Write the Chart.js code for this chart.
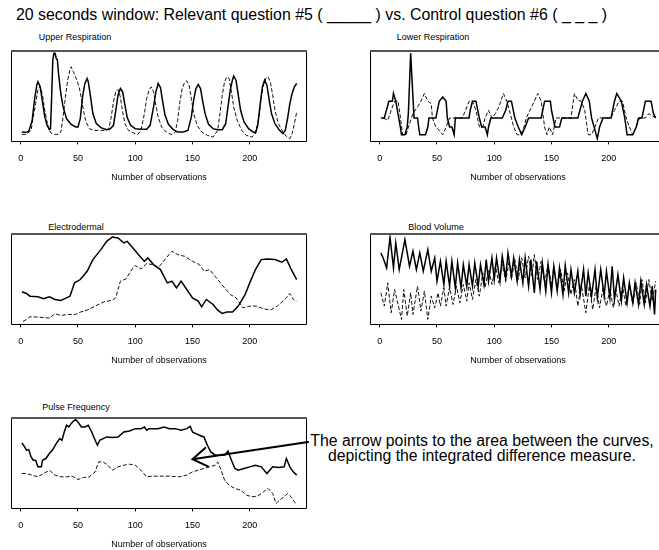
<!DOCTYPE html>
<html><head><meta charset="utf-8">
<script src="https://cdn.jsdelivr.net/npm/chart.js@4.4.1/dist/chart.umd.min.js"></script>
<style>
html,body{margin:0;padding:0;width:659px;height:550px;overflow:hidden;background:#fff;font-family:"Liberation Sans",Arial,sans-serif;color:#000}
.abs{position:absolute;white-space:nowrap}
#title{left:16px;top:6px;font-size:15.9px;line-height:18px}
.ptitle{font-size:9px;line-height:11px;transform:translateX(-50%)}
#note{left:300px;width:364px;top:434px;font-size:15.8px;line-height:14.7px;text-align:center}
canvas{position:absolute}
</style></head><body>
<div id="title" class="abs"></div>
<div id="note" class="abs"></div>
<script>
// ---------- text ----------
const mainTitle = "20 seconds window: Relevant question #5 ( _____ ) vs. Control question #6 ( _ _ _ )";
const noteLines = ["The arrow points to the area between the curves,", "depicting the integrated difference measure."];
const panelTitles = ["Upper Respiration", "Lower Respiration", "Electrodermal", "Blood Volume", "Pulse Frequency"];
const xAxisTitle = "Number of observations";
const tickValues = [0, 50, 100, 150, 200];

// ---------- Upper Respiration ----------
const upperSolidObs = [1,4,7,10,12,14,15,17,19,21,23,25,26,27,28,29,30,31,32,33,35,37,40,44,48,50,52,54,56,58,59,61,63,66,70,75,78,81,83,85,87,89,91,93,96,100,105,110,113,116,118,120,122,124,126,129,133,137,142,146,149,151,153,155,157,159,161,164,168,172,176,179,181,183,185,186,188,190,192,195,199,203,205,207,209,211,213,215,217,219,222,226,229,231,233,235,237,239,241];
const upperSolidVal = [28,27,30,63,123,168,178,163,118,73,48,35,38,133,243,263,263,248,243,203,143,103,68,51,43,43,68,133,173,188,178,133,83,53,41,35,37,48,93,138,158,148,108,71,48,38,36,36,48,103,148,173,161,118,78,51,36,28,28,33,73,123,158,170,158,118,83,51,38,35,35,53,103,153,185,195,183,138,93,58,38,28,25,48,108,163,183,168,123,83,53,33,23,33,68,113,143,163,173];
const upperDashObs = [1,5,9,11,13,15,17,19,21,23,25,27,30,33,35,37,39,41,43,44,46,49,51,53,55,57,60,64,70,74,77,79,81,83,85,87,89,91,94,98,102,105,108,110,112,114,116,118,120,123,127,132,135,137,139,141,143,145,147,149,151,154,158,163,168,172,174,176,178,180,182,184,186,189,193,197,202,205,208,210,212,214,216,218,220,222,225,229,232,235,237,239,241];
const upperDashVal = [21,21,33,73,113,153,165,138,93,58,33,23,21,21,28,73,133,183,215,223,208,183,163,128,88,58,38,33,33,33,38,73,118,148,155,133,88,53,33,26,20,33,83,128,153,163,148,108,73,43,28,20,28,63,118,158,176,181,168,128,83,48,28,18,13,33,83,138,178,193,188,148,103,63,33,18,13,23,73,128,168,188,193,178,138,93,53,28,15,8,23,53,88];

// ---------- Lower Respiration ----------
const lowerSolidObs = [1,4,8,11,12,14,18,19,22,24,25,27,29,30,33,34,35,40,42,43,49,52,55,58,59,61,63,65,66,78,79,81,84,87,89,92,94,95,97,107,110,112,115,118,121,124,127,130,141,144,149,150,153,157,159,173,177,180,183,185,188,190,192,195,202,205,207,211,214,216,221,224,226,229,232,237,239,241];
const lowerSolidVal = [70,70,120,120,143,120,43,20,20,43,83,263,133,70,70,43,20,20,43,70,70,120,133,120,70,43,43,20,70,70,93,120,120,70,43,43,20,43,70,70,93,120,120,70,43,20,43,70,70,120,120,93,43,43,70,70,120,143,120,70,33,8,43,70,70,120,143,120,70,20,20,43,70,70,120,120,83,70];
const lowerDashObs = [3,7,10,13,16,18,20,23,26,29,33,36,39,42,45,46,49,52,55,58,61,72,75,78,81,84,87,90,92,95,98,101,104,108,111,114,117,120,123,126,128,135,138,141,144,146,148,151,154,167,170,173,176,179,182,185,188,191,202,205,209,212,215,218,221,224,227,232,235,241];
const lowerDashVal = [70,63,93,120,120,73,20,20,53,83,103,120,143,120,113,70,43,33,20,43,70,70,93,120,120,93,43,43,70,93,70,83,103,143,120,83,43,20,20,43,70,120,143,120,43,20,43,20,70,70,143,123,120,93,20,20,43,70,70,93,120,120,73,43,20,43,70,70,83,70];

// ---------- Electrodermal ----------
const edaSolidObs = [1,5,8,15,20,25,30,35,40,43,47,52,58,63,70,75,80,85,90,93,98,104,108,111,116,122,128,132,136,140,145,150,155,158,162,168,172,176,180,185,190,196,200,205,210,215,222,228,232,236,241];
const edaSolidVal = [98,93,85,83,77,83,75,72,80,85,125,135,160,195,225,250,263,260,245,250,230,205,190,200,180,165,125,130,110,130,105,80,70,53,75,60,43,33,37,37,55,90,125,165,195,197,195,187,197,167,135];
const edaDashObs = [2,5,8,15,25,30,35,42,48,52,58,65,72,80,83,87,92,97,100,105,110,115,120,127,132,137,143,150,156,160,165,172,178,183,188,194,200,206,212,218,224,228,232,235,238,241];
const edaDashVal = [9,15,23,22,19,32,27,30,30,37,43,55,67,73,80,130,137,165,177,167,183,180,170,200,220,210,205,190,180,160,165,135,110,90,80,50,55,55,47,43,55,67,80,93,75,70];

// ---------- Blood Volume ----------
const bvSolidObs = [1,3,6,9,12,14,17,22,26,29,32,35,38,42,45,48,50,53,56,58,61,63,66,68,71,73,76,78,81,83,86,88,91,93,95,98,100,102,105,107,110,112,115,117,120,122,125,127,130,132,135,137,140,142,145,147,150,152,155,157,160,162,165,167,170,173,175,178,180,182,185,188,190,193,196,198,201,203,205,208,211,213,216,218,221,223,226,228,231,233,236,238,240,241];
const bvSolidVal = [215,200,170,262,170,245,165,255,175,220,165,215,160,225,160,200,130,190,120,190,115,190,110,185,110,180,115,180,115,185,115,180,120,195,130,200,135,200,130,205,140,215,145,200,130,195,125,200,115,195,95,190,105,185,100,180,95,175,100,170,90,177,95,165,95,160,90,165,85,155,85,165,80,165,85,160,80,175,75,150,70,140,65,125,65,125,60,130,60,120,55,115,30,105];
const bvDashObs = [1,4,7,10,13,19,21,24,27,29,33,36,39,42,45,48,51,53,56,58,61,64,67,70,73,76,78,81,84,87,90,92,95,98,101,104,107,110,113,115,118,121,124,127,130,133,135,138,141,144,147,150,152,155,158,161,164,167,170,173,176,180,183,186,189,192,195,198,201,204,206,209,212,215,218,221,224,227,229,232,235,238,241];
const bvDashVal = [95,55,125,35,105,15,105,25,95,30,115,40,100,15,85,50,95,55,110,55,112,60,115,65,120,70,125,75,135,85,155,110,165,120,175,125,180,130,190,135,195,135,200,140,205,145,210,135,190,125,180,115,175,105,165,100,155,90,135,55,120,35,115,45,115,50,110,55,105,50,110,55,115,55,120,60,125,60,135,65,135,70,130];

// ---------- Pulse Frequency ----------
const pulseSolidObs = [1,3,5,7,9,11,13,15,18,19,22,25,28,31,34,36,38,40,42,44,46,48,50,53,56,59,62,65,67,69,72,75,80,85,90,95,100,105,108,110,112,115,120,125,130,135,140,145,148,150,153,156,160,163,166,170,175,178,181,184,187,190,195,200,205,210,215,220,225,230,232,235,238,241];
const pulseSolidVal = [197,187,175,177,155,145,145,125,125,145,150,165,177,195,210,205,230,250,245,255,263,267,260,245,245,250,230,205,190,205,210,215,213,215,230,233,240,240,245,235,240,240,240,245,240,240,235,240,247,230,225,220,215,190,170,160,160,160,173,145,120,115,120,125,130,125,105,125,123,125,150,125,110,100];
const pulseDashObs = [1,5,10,15,20,25,30,35,40,45,50,55,60,65,68,72,76,80,85,90,95,100,105,110,115,120,130,138,145,150,155,160,165,170,172,175,178,182,187,192,197,202,207,212,216,220,223,226,230,233,236,239,241];
const pulseDashVal = [105,105,100,95,105,115,100,95,95,97,87,93,95,110,140,140,130,115,125,130,133,130,115,95,97,97,97,95,100,110,115,120,125,130,140,115,85,70,60,55,40,35,37,50,60,45,15,25,35,45,35,20,10];

// arrow annotation in pulse-panel data coordinates [observation, value]
const arrowTail = [251, 200];
const arrowTip = [150, 148];

// ---------- layout ----------
document.getElementById('title').textContent = mainTitle;
document.getElementById('note').innerHTML = noteLines.join('<br>');

const panels = [
  {left:11,  top:50,  yMax:273, title:0, tx:75,  ty:32,    s:[upperSolidObs, upperSolidVal], d:[upperDashObs, upperDashVal]},
  {left:370, top:50,  yMax:273, title:1, tx:433, ty:32,    s:[lowerSolidObs, lowerSolidVal], d:[lowerDashObs, lowerDashVal]},
  {left:11,  top:233, yMax:275, title:2, tx:76,  ty:221.5, s:[edaSolidObs, edaSolidVal], d:[edaDashObs, edaDashVal]},
  {left:370, top:233, yMax:275, title:3, tx:436, ty:221.5, s:[bvSolidObs, bvSolidVal], d:[bvDashObs, bvDashVal]},
  {left:11,  top:417, yMax:275, title:4, tx:76,  ty:401.5, s:[pulseSolidObs, pulseSolidVal], d:[pulseDashObs, pulseDashVal], arrow:true}
];

function pts(xs, ys){ return xs.map((x, i) => ({x: x, y: ys[i]})); }

const boxPlugin = {
  id: 'box',
  afterDatasetsDraw(chart){
    const ctx = chart.ctx, a = chart.chartArea;
    ctx.save();
    ctx.strokeStyle = '#000'; ctx.lineWidth = 1;
    ctx.beginPath();
    ctx.moveTo(Math.round(a.left) + 0.5, Math.round(a.top));
    ctx.lineTo(Math.round(a.left) + 0.5, Math.round(a.bottom) + 0.5);
    ctx.lineTo(Math.round(a.right) - 0.5, Math.round(a.bottom) + 0.5);
    ctx.lineTo(Math.round(a.right) - 0.5, Math.round(a.top));
    ctx.stroke();
    ctx.strokeStyle = '#555'; ctx.lineWidth = 2;
    ctx.beginPath();
    ctx.moveTo(Math.round(a.left), Math.round(a.top) + 1);
    ctx.lineTo(Math.round(a.right), Math.round(a.top) + 1);
    ctx.stroke();
    ctx.restore();
  }
};

const arrowPlugin = {
  id: 'arrow',
  afterDraw(chart){
    const xs = chart.scales.x, ys = chart.scales.y, ctx = chart.ctx;
    const x1 = xs.getPixelForValue(arrowTail[0]), y1 = ys.getPixelForValue(arrowTail[1]);
    const x2 = xs.getPixelForValue(arrowTip[0]), y2 = ys.getPixelForValue(arrowTip[1]);
    const ang = Math.atan2(y1 - y2, x1 - x2), len = 17, spread = 0.58;
    ctx.save();
    ctx.strokeStyle = '#000'; ctx.lineWidth = 2; ctx.lineCap = 'round';
    ctx.beginPath();
    ctx.moveTo(x1, y1); ctx.lineTo(x2, y2);
    ctx.moveTo(x2 + len * Math.cos(ang - spread), y2 + len * Math.sin(ang - spread));
    ctx.lineTo(x2, y2);
    ctx.lineTo(x2 + len * Math.cos(ang + spread), y2 + len * Math.sin(ang + spread));
    ctx.stroke();
    ctx.restore();
  }
};

Chart.defaults.font.family = '"Liberation Sans", Arial, sans-serif';
Chart.defaults.color = '#000';

panels.forEach(p => {
  const t = document.createElement('div');
  t.className = 'abs ptitle';
  t.style.left = p.tx + 'px'; t.style.top = p.ty + 'px';
  t.textContent = panelTitles[p.title];
  document.body.appendChild(t);

  const c = document.createElement('canvas');
  c.width = 300; c.height = 136;
  c.style.left = (p.left - 2) + 'px'; c.style.top = (p.top - 2) + 'px';
  document.body.appendChild(c);

  new Chart(c, {
    type: 'line',
    data: {datasets: [
      {data: pts(p.s[0], p.s[1]), borderColor: '#000', borderWidth: 1.5, pointRadius: 0, tension: 0, fill: false},
      {data: pts(p.d[0], p.d[1]), borderColor: '#111', borderWidth: 1, borderDash: [4, 2], pointRadius: 0, tension: 0, fill: false}
    ]},
    options: {
      responsive: false, animation: false, devicePixelRatio: 1,
      layout: {padding: {left: 2, right: 2, top: 2, bottom: 0}},
      plugins: {legend: {display: false}, tooltip: {enabled: false}, title: {display: false}},
      scales: {
        x: {
          type: 'linear', min: -8.5, max: 250,
          afterBuildTicks: s => { s.ticks = tickValues.map(v => ({value: v})); },
          grid: {display: true, drawOnChartArea: false, drawTicks: true, tickLength: 3, color: '#000', lineWidth: 1},
          border: {display: false},
          ticks: {color: '#000', font: {size: 9}, padding: 8.5, maxRotation: 0, autoSkip: false},
          title: {display: true, text: xAxisTitle, color: '#000', font: {size: 9}, padding: {top: 0, bottom: 1}}
        },
        y: {display: false, min: 0, max: p.yMax}
      }
    },
    plugins: p.arrow ? [boxPlugin, arrowPlugin] : [boxPlugin]
  });
});
</script>
</body></html>
